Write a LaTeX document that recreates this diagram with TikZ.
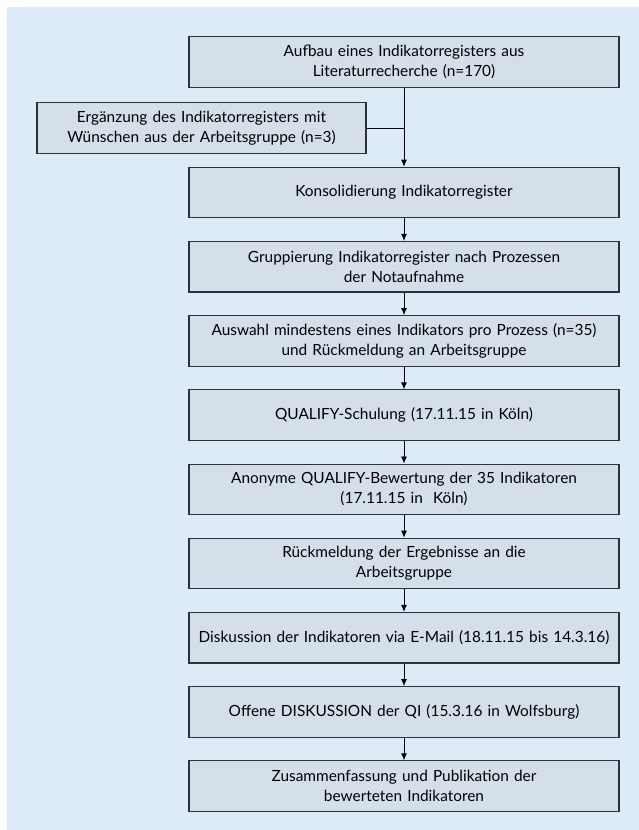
\documentclass[tikz,border=0pt]{standalone}
\usepackage{fontspec}
\setmainfont{Lato}
\usetikzlibrary{positioning, arrows.meta}

\definecolor{bgblue}{HTML}{DDEAF7}
\definecolor{boxfill}{HTML}{D4DFEA}
\definecolor{boxline}{HTML}{2E3238}

\tikzset{
	stepbox/.style={draw=boxline, fill=boxfill, line width=1.1pt, minimum width=430pt, minimum height=50.5pt, text width=426pt, align=center, font=\fontsize{15.4}{20}\selectfont, inner sep=0pt},
	arr/.style={-{Latex[length=7pt,width=6pt]}, line width=0.9pt, black}
}

\begin{document}
\begin{tikzpicture}[x=1pt, y=-1pt, node distance=22.6pt]
					% background
					\useasboundingbox (0,0) rectangle (639,830);
					\fill[bgblue] (7,7) rectangle (639,830);
					
					\node[stepbox] (aufbau) at (404,62) {Aufbau eines Indikatorregisters aus\\Literaturrecherche (n=170)};
					\node[stepbox, minimum width=329pt, text width=325pt] (ergaenz) at (201.5,128) {Ergänzung des Indikatorregisters mit\\Wünschen aus der Arbeitsgruppe (n=3)};
					\node[stepbox] (konsol) at (404,192.5) {Konsolidierung Indikatorregister};
					\node[stepbox, below=of konsol] (grupp) {Gruppierung Indikatorregister nach Prozessen\\der Notaufnahme};
					\node[stepbox, below=of grupp] (auswahl) {Auswahl mindestens eines Indikators pro Prozess (n=35)\\und Rückmeldung an Arbeitsgruppe};
					\node[stepbox, below=of auswahl] (schulung) {QUALIFY-Schulung (17.11.15 in Köln)};
					\node[stepbox, below=of schulung] (bewert) {Anonyme QUALIFY-Bewertung der 35 Indikatoren\\(17.11.15 in\ \ Köln)};
					\node[stepbox, below=of bewert] (rueck) {Rückmeldung der Ergebnisse an die\\Arbeitsgruppe};
					\node[stepbox, below=of rueck] (diskmail) {Diskussion der Indikatoren via E-Mail (18.11.15 bis 14.3.16)};
					\node[stepbox, below=of diskmail] (offen) {Offene DISKUSSION der QI (15.3.16 in Wolfsburg)};
					\node[stepbox, below=of offen] (zusamm) {Zusammenfassung und Publikation der\\bewerteten Indikatoren};
					
					\draw[arr] (aufbau) -- (konsol);
					\draw[line width=0.9pt] (ergaenz.east) -- (ergaenz.east -| aufbau.south);
					\foreach \a/\b in {konsol/grupp, grupp/auswahl, auswahl/schulung, schulung/bewert, bewert/rueck, rueck/diskmail, diskmail/offen, offen/zusamm}
						\draw[arr] (\a) -- (\b);
				\end{tikzpicture}
\end{document}
